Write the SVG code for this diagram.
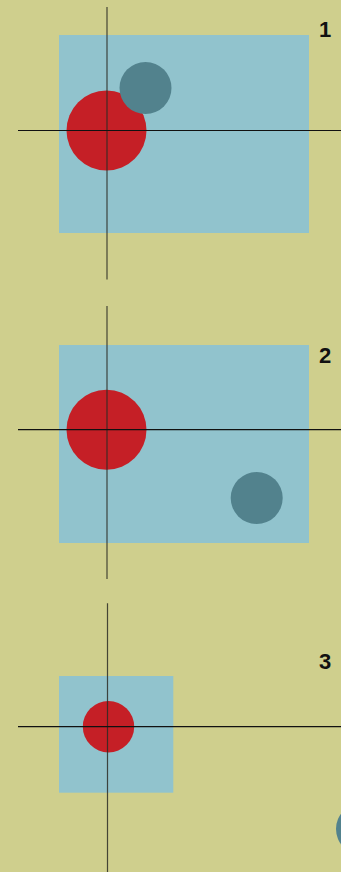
<svg xmlns="http://www.w3.org/2000/svg" width="341" height="872" viewBox="0 0 341 872">
<style>
.bg{fill:#CFCF8D}
.box{fill:#91C3CD}
.red{fill:#C51F26}
.teal{fill:#52828D}
.v{stroke:#2b2b25;stroke-width:1.2;stroke-opacity:0.85}
.h{stroke:#111;stroke-width:1.2}
.lbl{font-family:"Liberation Sans",Arial,sans-serif;font-weight:bold;font-size:22px;fill:#111;text-anchor:middle}
</style>
<rect class="bg" x="0" y="0" width="341" height="872"/>
<g id="panel1">
  <rect class="box" x="59" y="35" width="250" height="198"/>
  <circle class="red" cx="106.5" cy="130.5" r="40"/>
  <circle class="teal" cx="145.5" cy="88" r="26"/>
  <text class="lbl" x="325" y="37">1</text>
</g>
<g id="panel2">
  <rect class="box" x="59" y="345" width="250" height="198"/>
  <circle class="red" cx="106.5" cy="429.7" r="40"/>
  <circle class="teal" cx="256.7" cy="498" r="26"/>
  <text class="lbl" x="325" y="362.5">2</text>
</g>
<g id="panel3">
  <rect class="box" x="59" y="676" width="114.3" height="116.7"/>
  <circle class="red" cx="108.5" cy="726.7" r="25.7"/>
  <circle class="teal" cx="362" cy="829" r="26"/>
  <text class="lbl" x="325" y="668.5">3</text>
</g>
<g id="connectors">
  <line class="v" x1="107" y1="7" x2="107" y2="279.5"/>
  <line class="h" x1="18" y1="130.5" x2="341" y2="130.5"/>
  <line class="v" x1="107" y1="306" x2="107" y2="579"/>
  <line class="h" x1="18" y1="429.7" x2="341" y2="429.7"/>
  <line class="v" x1="107.5" y1="603.3" x2="107.5" y2="872"/>
  <line class="h" x1="18" y1="726.7" x2="341" y2="726.7"/>
</g>
</svg>
